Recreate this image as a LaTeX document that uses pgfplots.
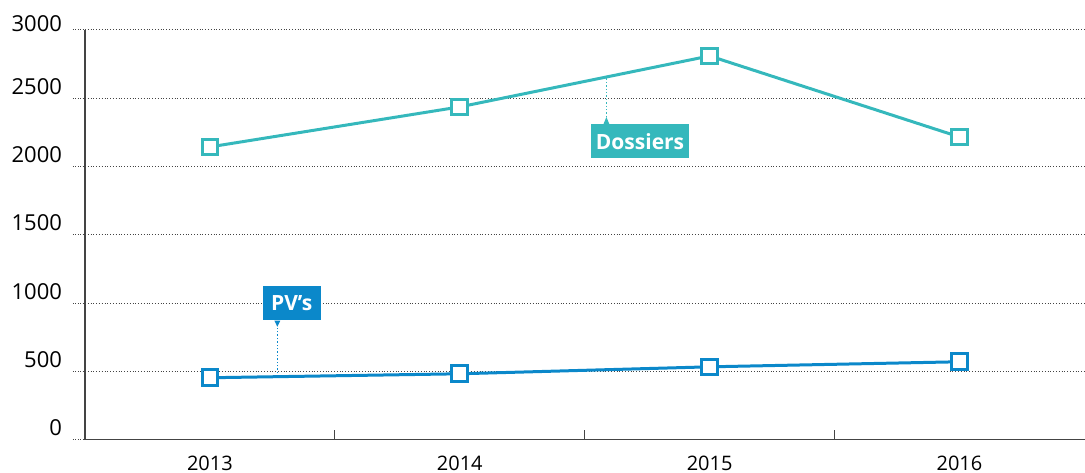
\documentclass[border=0pt]{standalone}
\usepackage{fontspec}
\setmainfont{Open Sans}
\usepackage{pgfplots}
\pgfplotsset{compat=1.18}
\definecolor{dos}{HTML}{35B8BC}
\definecolor{pvs}{HTML}{0B88CA}
\definecolor{gridc}{HTML}{444444}

\begin{document}
\begin{tikzpicture}
\begin{axis}[
    scale only axis,
    width=500pt, height=205pt,
    xmin=-0.5, xmax=3.5,
    ymin=0, ymax=3000,
    axis lines*=left,
    axis line style={gridc, line width=0.6pt},
    clip=false,
    ytick={0,500,...,3000},
    yticklabels={0,500,1000,1500,2000,2500,\raisebox{-3pt}{3000}},
    ymajorgrids,
    grid style={gridc, densely dotted, line width=0.5pt},
    major tick length=6pt,
    tick align=outside,
    ytick pos=left,
    ytick style={gridc, densely dotted, line width=0.5pt},
    yticklabel style={font=\fontsize{11}{13}\selectfont, anchor=base east, xshift=-2pt, yshift=2pt},
    xtick={0,1,2,3},
    xticklabels={2013,2014,2015,2016},
    xtick style={draw=none},
    xticklabel style={font=\fontsize{10}{12}\selectfont, inner sep=1pt, yshift=-1pt},
    extra x ticks={0.5,1.5,2.5},
    extra x tick labels={},
    extra x tick style={major tick length=5pt, tick align=inside, xtick style={draw=gridc, solid, line width=0.6pt}, grid=none},
]
\addplot[dos, line width=1.5pt, mark=square*, mark size=3.9pt,
    mark options={fill=white, solid, line width=1.5pt}]
    coordinates {(0,2144) (1,2437) (2,2810) (3,2217)};
\addplot[pvs, line width=1.5pt, mark=square*, mark size=3.9pt,
    mark options={fill=white, solid, line width=1.5pt}]
    coordinates {(0,454) (1,483) (2,534) (3,571)};

% annotation Dossiers
\draw[dos, densely dotted, line width=0.7pt] (axis cs:1.587,2645) -- (axis cs:1.587,2363);
\fill[dos] (axis cs:1.587,2363) -- (axis cs:1.575,2310) -- (axis cs:1.599,2310) -- cycle;
\node[fill=dos, text=white, anchor=north west, minimum width=49pt, minimum height=17pt, inner sep=0pt,
    font=\fontsize{10.5}{12}\selectfont\bfseries] at (axis cs:1.524,2312) {Dossiers};

% annotation PV's
\draw[pvs, densely dotted, line width=0.7pt] (axis cs:0.27,462) -- (axis cs:0.27,827);
\fill[pvs] (axis cs:0.27,827) -- (axis cs:0.258,873) -- (axis cs:0.282,873) -- cycle;
\node[fill=pvs, text=white, anchor=south west, minimum width=29pt, minimum height=17pt, inner sep=0pt,
    font=\fontsize{10.5}{12}\selectfont\bfseries] at (axis cs:0.21,871) {PV’s};

\path (rel axis cs:-0.085,-0.078) rectangle (rel axis cs:1,1.0732);
\end{axis}
\end{tikzpicture}
\end{document}
